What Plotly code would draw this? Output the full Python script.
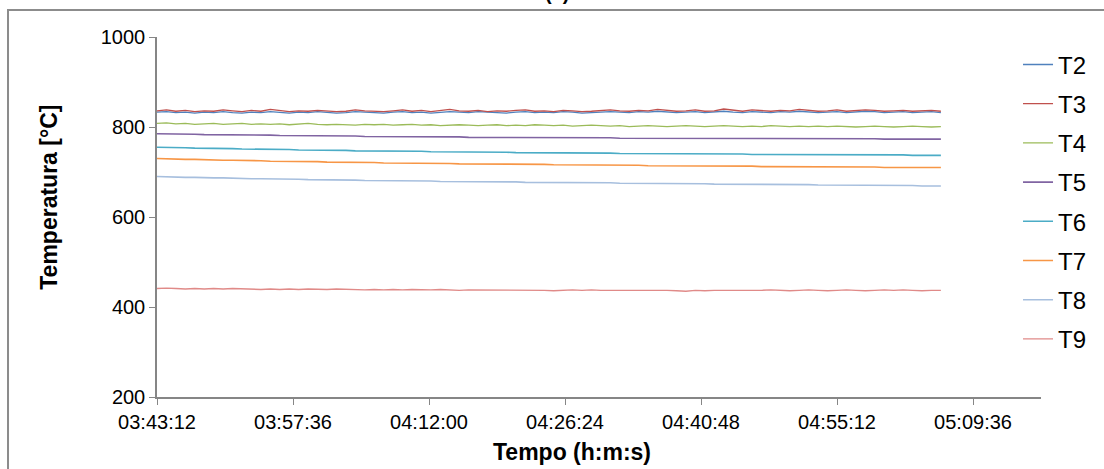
import pandas as pd
import plotly.graph_objects as go

# ---- data ----
start_time = "2000-01-01 03:43:12"
series_names = ["T2", "T3", "T4", "T5", "T6", "T7", "T8", "T9"]

T2 = [833,834,832,833,831,833,832,834,832,831,833,832,
      834,832,831,833,832,834,833,831,832,834,833,832,
      831,833,834,832,833,831,832,834,833,832,834,833,
      832,831,833,834,832,833,832,834,833,831,832,833,
      834,833,832,834,833,835,834,832,833,834,832,833,
      835,833,832,834,833,832,834,833,835,834,832,833,
      834,832,833,835,834,832,833,834,832,833,834,832]
T3 = [836,838,835,837,834,836,835,838,836,834,837,835,
      839,836,834,836,835,837,836,834,835,838,836,835,
      834,836,838,835,837,834,836,839,836,835,837,834,
      836,835,837,838,835,836,834,837,836,834,835,837,
      838,836,835,837,836,839,837,835,836,838,835,836,
      840,837,835,838,836,835,837,836,839,837,835,836,
      838,835,836,838,837,835,836,837,835,836,837,835]
T4 = [808,809,807,808,806,807,808,806,807,808,806,807,
      806,807,805,806,808,806,805,806,805,804,806,805,
      806,804,805,806,804,805,803,804,805,804,803,804,
      805,803,804,803,805,804,803,804,802,803,804,803,
      802,803,801,802,803,802,801,802,803,802,801,802,
      803,802,801,802,801,803,802,801,802,801,802,801,
      802,801,800,801,802,801,800,801,802,801,800,801]
T5 = [785,785,784,784,784,783,783,783,783,782,782,782,
      782,781,781,781,781,780,780,780,780,780,779,779,
      779,779,779,778,778,778,778,778,778,777,777,777,
      777,777,777,777,776,776,776,776,776,776,776,776,
      776,775,775,775,775,775,775,775,775,775,775,775,
      775,775,774,774,774,774,774,774,774,774,774,774,
      774,774,774,774,774,773,773,773,773,773,773,773]
T6 = [755,755,754,754,753,753,752,752,752,751,751,751,
      750,750,750,749,749,749,748,748,748,747,747,747,
      747,746,746,746,746,745,745,745,745,744,744,744,
      744,744,743,743,743,743,743,742,742,742,742,742,
      742,741,741,741,741,741,741,740,740,740,740,740,
      740,740,740,739,739,739,739,739,739,739,739,738,
      738,738,738,738,738,738,738,738,737,737,737,737]
T7 = [730,729,729,728,728,727,727,726,726,726,725,725,
      724,724,724,723,723,723,722,722,722,721,721,721,
      720,720,720,720,719,719,719,719,718,718,718,718,
      718,717,717,717,717,717,716,716,716,716,716,715,
      715,715,715,715,714,714,714,714,714,714,713,713,
      713,713,713,713,712,712,712,712,712,712,711,711,
      711,711,711,711,711,710,710,710,710,710,710,710]
T8 = [690,689,689,688,688,687,687,687,686,686,685,685,
      685,684,684,684,683,683,683,682,682,682,681,681,
      681,681,680,680,680,680,679,679,679,679,678,678,
      678,678,678,677,677,677,677,677,676,676,676,676,
      676,675,675,675,675,675,674,674,674,674,674,673,
      673,673,673,673,673,672,672,672,672,672,671,671,
      671,671,671,671,670,670,670,670,670,669,669,669]
T9 = [441,442,441,440,441,440,441,440,441,440,440,439,
      440,439,440,439,440,439,439,440,439,439,438,439,
      438,439,438,439,438,438,439,438,437,438,438,437,
      438,437,438,437,438,437,436,437,438,437,438,437,
      437,438,437,438,437,438,437,436,435,437,436,437,
      437,436,437,436,437,438,437,436,437,438,437,436,
      437,438,437,436,437,438,437,438,437,436,437,437]

tick_labels = ["03:43:12", "03:57:36", "04:12:00", "04:26:24", "04:40:48", "04:55:12", "05:09:36"]
y_ticks = [200, 400, 600, 800, 1000]

values = [T2, T3, T4, T5, T6, T7, T8, T9]
colors = ["#4F81BD", "#C0504D", "#9BBB59", "#8064A2", "#4BACC6", "#F79646", "#A7BFDE", "#E08A88"]
widths = [1.3, 1.3, 1.3, 1.6, 1.6, 1.6, 1.6, 1.4]

times = pd.date_range(start=start_time, periods=len(T2), freq="1min")
tick_vals = [pd.Timestamp("2000-01-01 " + t) for t in tick_labels]

FONT = "Liberation Sans, Arial, sans-serif"

fig = go.Figure()
for name, vals, c, w in zip(series_names, values, colors, widths):
    fig.add_trace(go.Scatter(x=times, y=vals, name=name, mode="lines",
                             line=dict(color=c, width=w), legendgroup=name))

fig.update_layout(
    width=1104, height=469,
    margin=dict(l=157, r=57, t=37, b=72),
    paper_bgcolor="white", plot_bgcolor="white",
    font=dict(family=FONT, size=20, color="black"),
    showlegend=True,
    legend=dict(x=0.974, xanchor="left", y=0.985, yanchor="top",
                bgcolor="rgba(0,0,0,0)", tracegroupgap=5,
                font=dict(size=24, family=FONT)),
    xaxis=dict(type="date",
               range=[pd.Timestamp("2000-01-01 03:43:12"), pd.Timestamp("2000-01-01 05:16:48")],
               tickvals=tick_vals, ticktext=tick_labels,
               tickfont=dict(size=20),
               showline=True, linecolor="#868686", linewidth=1.5,
               ticks="outside", ticklen=6, tickcolor="#868686",
               showgrid=False, zeroline=False),
    yaxis=dict(range=[200, 1000], tickvals=y_ticks,
               tickfont=dict(size=20),
               showline=True, linecolor="#868686", linewidth=1.5,
               ticks="outside", ticklen=6, tickcolor="#868686",
               showgrid=False, zeroline=False),
)

def px_x(p):
    return (p - 157) / 890

def px_y(p):
    return (397 - p) / 360

# axis titles (positioned as in the reference)
fig.add_annotation(text="<b>Tempo (h:m:s)</b>", xref="paper", yref="paper",
                   x=px_x(575), y=px_y(452), xanchor="center", yanchor="middle",
                   showarrow=False, font=dict(size=23, family=FONT))
fig.add_annotation(text="<b>Temperatura [°C]</b>", xref="paper", yref="paper",
                   x=px_x(48), y=px_y(197), xanchor="center", yanchor="middle",
                   textangle=-90, showarrow=False, font=dict(size=23, family=FONT))

# chart-area border (cropped in reference)
fig.add_shape(type="rect", xref="paper", yref="paper",
              x0=px_x(7), x1=px_x(1115), y0=px_y(480), y1=px_y(10),
              line=dict(color="#8C8C8C", width=2), fillcolor="rgba(0,0,0,0)", layer="above")

# chart title, mostly cut off at the top
fig.add_annotation(text="<b>(a)</b>", xref="paper", yref="paper",
                   x=px_x(560), y=px_y(6), yanchor="bottom",
                   showarrow=False, font=dict(size=20, family=FONT))

fig.write_html("out.html")
